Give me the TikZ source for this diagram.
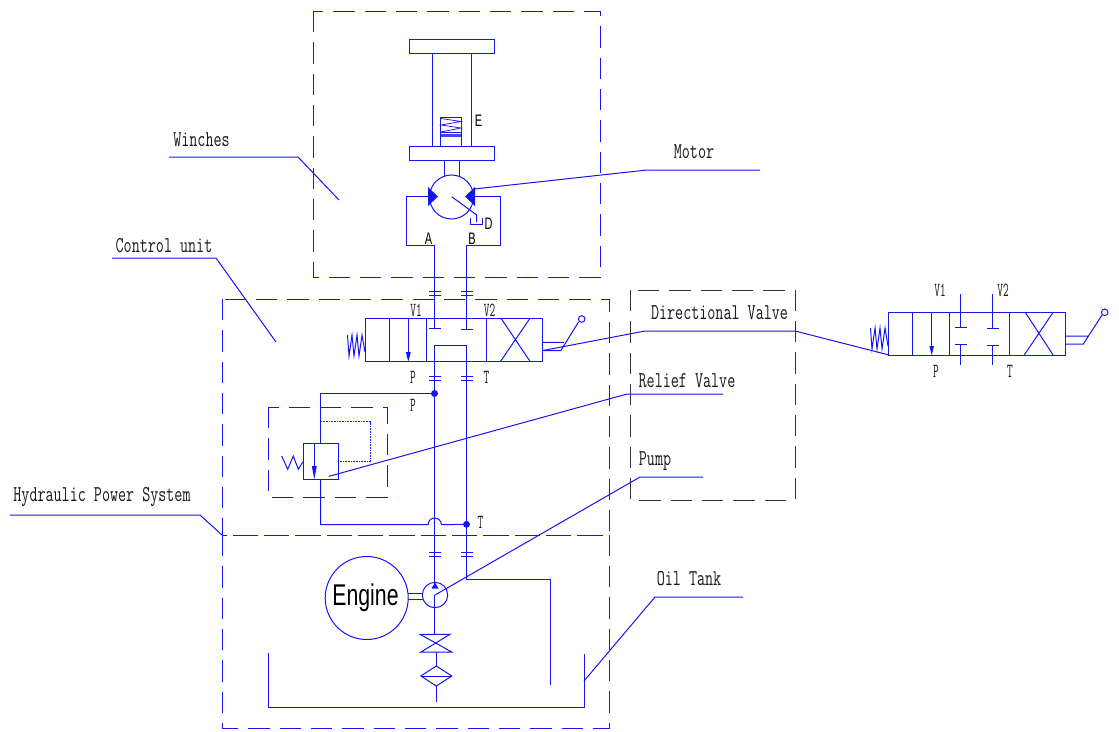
\documentclass[tikz,border=0pt]{standalone}
\usepackage{fontspec}
\setmainfont{Liberation Sans}
\setmonofont{Latin Modern Mono}
\definecolor{cadblue}{RGB}{20,20,245}
\tikzset{
  pipe/.style={draw=cadblue,line width=0.75pt,line join=miter},
  frame/.style={draw=cadblue,line width=0.72pt,dash pattern=on 16pt off 7.5pt},
  blackframe/.style={draw=black!80,line width=0.6pt,dash pattern=on 16pt off 7.5pt},
  pilot/.style={draw=cadblue,line width=0.6pt,dash pattern=on 1.2pt off 0.8pt},
  head/.style={fill=cadblue,draw=none},
  dot/.style={circle,fill=cadblue,draw=none,inner sep=0pt,minimum size=5.2pt},
  lab/.style={font=\ttfamily\fontsize{17pt}{18pt}\selectfont,text=black!90,inner sep=0pt,xscale=.69,transform shape},
  port/.style={font=\ttfamily\fontsize{15pt}{16pt}\selectfont,text=black!90,inner sep=0pt,xscale=.55,transform shape},
  sanslab/.style={font=\fontsize{12.5pt}{13pt}\selectfont,text=black,inner sep=0pt,xscale=.66,transform shape},
}
\begin{document}
\begin{tikzpicture}[x=0.75pt,y=-0.75pt]
\useasboundingbox (0,0) rectangle (1119,731);
% ===== frames
\draw[frame] (313,11) rectangle (600,277.5);
\draw[frame] (222,299) rectangle (609,535);
\draw[frame] (222,535) rectangle (609,728);
\draw[frame] (268,407) rectangle (387,497);
\draw[blackframe] (630,290) rectangle (795,500);
% ===== winch
\draw[pipe] (409,39.5) rectangle (494,53.5);
\draw[pipe] (409,146.5) rectangle (494,160.5);
\draw[pipe] (432,53.5) -- (432,146.5) (471,53.5) -- (471,146.5);
\draw[pipe] (440.7,117.3) rectangle (461.3,146.5);
\draw[pipe] (440.7,132.7) -- (461.3,132.7);
\fill[cadblue!80] (440.7,134.5) rectangle (461.3,137.5);
\draw[pipe,line width=.55pt] (441,118.5) -- (461,121.5) -- (441,125) -- (461,128) -- (441,132);
\draw[pipe] (444,160.5) -- (444,176) (459,160.5) -- (459,176);
% motor
\coordinate (mL) at (429.5,196);
\coordinate (mR) at (474.5,196);
\draw[pipe] (451.5,197) circle[radius=22];
\fill[head] (428,187) -- (438,196.5) -- (428,206) -- cycle;
\fill[head] (465,196.5) -- (475,187) -- (475,206) -- cycle;
\draw[pipe] (451.7,196.7) -- (476.7,215) -- (476.7,222);
\draw[pipe] (470.3,218) -- (470.3,224) -- (482,224) -- (482,218);
\draw[pipe] (mL) -- (406.7,196) -- (406.7,245) -- (434.5,245) -- (434.5,328);
\draw[pipe] (mR) -- (500,196) -- (500,245) -- (466.7,245) -- (466.7,329);
\foreach \y in {291.7,295.7}{
  \draw[pipe] (429,\y) -- (441,\y) (461,\y) -- (473,\y);
}
\node[sanslab] (lE) at (478.5,120.5) {E};
\node[sanslab] (lD) at (488.5,224) {D};
\node[sanslab] (lA) at (428.5,239) {A};
\node[sanslab] (lB) at (472,239) {B};
% ===== directional valve (main)
\draw[pipe] (365,318.3) rectangle (542,361.7);
\draw[pipe] (389.3,318.3) -- (389.3,361.7) (426,318.3) -- (426,361.7) (486.3,318.3) -- (486.3,361.7);
\draw[pipe] (408.3,318.3) -- (408.3,354);
\fill[head] (405.8,352) -- (410.8,352) -- (408.3,361.7) -- cycle;
\draw[pipe] (501,318.3) -- (530.3,361.7) (530,318.3) -- (500.3,361.7);
\draw[pipe] (429.3,328) -- (440.7,328) (461.3,329) -- (473.3,329);
\draw[pipe] (347.5,335) -- (349,356) -- (352,335) -- (354,356) -- (357,335) -- (359,356) -- (362,335) -- (365,352);
\draw[pipe] (542,342.3) -- (564,342.3) (542,350.7) -- (560.7,350.7) -- (578.5,322);
\draw[pipe] (581.7,319) circle[radius=3.3];
\draw[pipe] (434.5,584) -- (434.5,345) -- (466.7,345) -- (466.7,579) -- (550,579) -- (550,685);
\foreach \y in {376,380,552.3,556}{
  \draw[pipe] (429,\y) -- (441,\y) (461,\y) -- (473,\y);
}
\node[port] (lV1) at (416,310) {V1};
\node[port] (lV2) at (489.5,310) {V2};
\node[port] (lP1) at (413,377) {P};
\node[port] (lT1) at (486.5,377) {T};
\node[port] (lP2) at (413,405) {P};
\node[port] (lT2) at (480.5,522) {T};
% ===== relief valve
\node[dot] (jP) at (434.5,393.5) {};
\node[dot] (jT) at (466.5,524.3) {};
\draw[pipe] (jP) -- (320.7,393.5) -- (320.7,443.3);
\draw[pipe] (303,443.3) rectangle (338,479.3);
\draw[pipe] (314.3,443.3) -- (314.3,470);
\fill[head] (311.8,466) -- (316.8,466) -- (314.3,479.3) -- cycle;
\draw[pipe] (320.7,479.3) -- (320.7,524.7) -- (428,524.7) arc[start angle=180,end angle=360,radius=6.7] -- (jT);
\draw[pilot] (320.7,421.7) -- (370,421.7) -- (370,461.3) -- (338,461.3);
\draw[pipe] (281.7,456) -- (287.7,469.3) -- (293.3,456) -- (298.3,469.3) -- (303,461.7);
% ===== engine + pump
\node[draw=cadblue,line width=.75pt,circle,minimum size=83pt*.75,inner sep=0pt] (eng) at (366.7,598) {};
\node[inner sep=0pt,xscale=.71,transform shape,font=\fontsize{22.5pt}{24pt}\selectfont] (engt) at (365.5,597.5) {Engine};
\draw[pipe] (408,593.3) -- (423,593.3) (408,599.3) -- (423,599.3);
\draw[pipe] (435,595) circle[radius=12.7];
\fill[head] (435,582.5) -- (438.5,588.5) -- (431.5,588.5) -- cycle;
\draw[pipe] (434.5,595) -- (434.5,634);
% shut-off valve + filter
\draw[pipe] (420,634.3) -- (450,634.3) -- (421,652) -- (451.7,652) -- cycle;
\draw[pipe] (436,652) -- (436,666);
\draw[pipe] (436.3,666) -- (451.8,676) -- (436.3,686) -- (420.8,676) -- cycle;
\draw[pipe] (420.8,676) -- (451.8,676);
\draw[pipe] (436.3,686) -- (436.3,702);
% tank
\draw[pipe] (268,653) -- (268,707.7) -- (584,707.7) -- (584,654);
% ===== right-hand valve
\draw[pipe] (888.3,312) rectangle (1065.3,355.3);
\draw[pipe] (912.3,312) -- (912.3,355.3) (949.3,312) -- (949.3,355.3) (1009.7,312) -- (1009.7,355.3);
\draw[pipe] (931.7,312) -- (931.7,348);
\fill[head] (929.4,346) -- (934,346) -- (931.7,355.3) -- cycle;
\draw[pipe] (1025,312) -- (1053.3,355.3) (1053.3,312) -- (1024,355.3);
\draw[pipe] (960.3,294) -- (960.3,327.3) (955,327.3) -- (966.7,327.3);
\draw[pipe] (992.7,294) -- (992.7,328) (987.3,328) -- (999.3,328);
\draw[pipe] (955,344.7) -- (966.7,344.7) (960.3,344.7) -- (960.3,365);
\draw[pipe] (987.3,345.3) -- (999.3,345.3) (992.7,345.3) -- (992.7,365);
\draw[pipe] (870.5,328) -- (872,349) -- (875,328) -- (877,349) -- (880,328) -- (882,349) -- (885,328) -- (888,346);
\draw[pipe] (1065.3,336) -- (1087.7,336) (1065.3,344) -- (1083.3,344) -- (1102,315);
\draw[pipe] (1104.7,312.3) circle[radius=3.3];
\node[port] (rV1) at (940,290) {V1};
\node[port] (rV2) at (1003,290) {V2};
\node[port] (rP) at (936,371.5) {P};
\node[port] (rT) at (1010,371.5) {T};
% ===== leaders
\draw[pipe] (169,157) -- (298,157) -- (339,200);
\draw[pipe] (112,258) -- (216,258) -- (276,342);
\draw[pipe] (10,515) -- (200,515) -- (222,535);
\draw[pipe] (474,189) -- (647,170) -- (760,170);
\draw[pipe] (542,350.7) -- (645,331) -- (795,331) -- (889,355);
\draw[pipe] (329,476.3) -- (627,394) -- (723,394);
\draw[pipe] (435,595) -- (640,477) -- (703,477);
\draw[pipe] (584,681) -- (655,597) -- (743,597);
\node[lab] (tW) at (201.5,139.5) {Winches};
\node[lab] (tC) at (164,245.5) {Control unit};
\node[lab] (tH) at (102,497.5) {Hydraulic Power System};
\node[lab] (tM) at (694,151.5) {Motor};
\node[lab] (tD) at (719.5,312.5) {Directional Valve};
\node[lab] (tR) at (687,380.5) {Relief Valve};
\node[lab] (tP) at (655,461.5) {Pump};
\node[lab] (tO) at (689,578.5) {Oil Tank};
\end{tikzpicture}
\end{document}
